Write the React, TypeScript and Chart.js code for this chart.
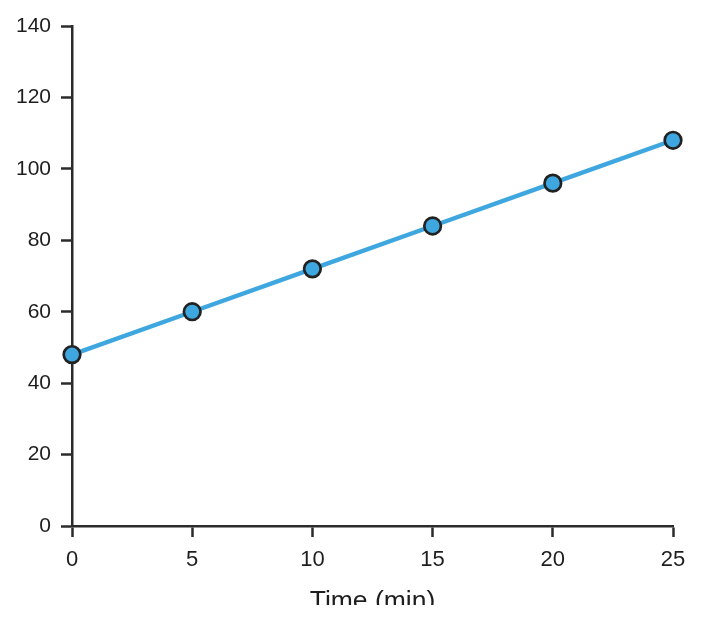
import { useEffect, useRef } from 'react';
import Chart from 'chart.js/auto';

const timeMin = [0, 5, 10, 15, 20, 25];
const values = [48, 60, 72, 84, 96, 108];

const FONT = "'Liberation Sans', Arial, sans-serif";
const AXIS = '#2b2b2b';
const BLUE = '#3fa7df';

export default function App() {
  const chartRef = useRef<HTMLCanvasElement>(null);
  const chartInstance = useRef<Chart | null>(null);

  useEffect(() => {
    if (!chartRef.current) return;
    if (chartInstance.current) chartInstance.current.destroy();

    chartInstance.current = new Chart(chartRef.current, {
      type: 'line',
      data: {
        datasets: [
          {
            data: timeMin.map((t, i) => ({ x: t, y: values[i] })),
            borderColor: BLUE,
            backgroundColor: BLUE,
            borderWidth: 4.4,
            pointRadius: 8.3,
            pointBorderWidth: 2.7,
            pointBorderColor: '#222222',
            pointBackgroundColor: BLUE,
            tension: 0,
            clip: false,
          },
        ],
      },
      options: {
        animation: false,
        responsive: true,
        maintainAspectRatio: false,
        layout: { padding: { top: 26, right: 31, left: 0, bottom: 0 } },
        plugins: { legend: { display: false }, tooltip: { enabled: false } },
        scales: {
          x: {
            type: 'linear',
            min: 0,
            max: 25,
            afterFit: (scale) => {
              scale.height = 114;
            },
            ticks: { stepSize: 5, color: '#1e1e1e', padding: 10, font: { family: FONT, size: 22 } },
            grid: { drawOnChartArea: false, tickLength: 11, tickWidth: 2.5, tickColor: AXIS },
            border: { color: AXIS, width: 2.5 },
            title: {
              display: true,
              text: 'Time (min)',
              color: '#1e1e1e',
              font: { family: FONT, size: 26.5 },
              padding: { top: 0, bottom: 22 },
            },
          },
          y: {
            min: 0,
            max: 140,
            afterFit: (scale) => {
              scale.width = 72;
            },
            ticks: { stepSize: 20, color: '#1e1e1e', padding: 10, font: { family: FONT, size: 21 } },
            grid: { drawOnChartArea: false, tickLength: 11, tickWidth: 2.5, tickColor: AXIS },
            border: { color: AXIS, width: 2.5 },
          },
        },
      },
    });

    return () => {
      if (chartInstance.current) {
        chartInstance.current.destroy();
        chartInstance.current = null;
      }
    };
  }, []);

  return (
    <div style={{ position: 'absolute', left: 0, top: 0, width: 704, height: 605, overflow: 'hidden', background: '#fff' }}>
      <div style={{ position: 'relative', width: 704, height: 640 }}>
        <canvas ref={chartRef} />
      </div>
    </div>
  );
}
